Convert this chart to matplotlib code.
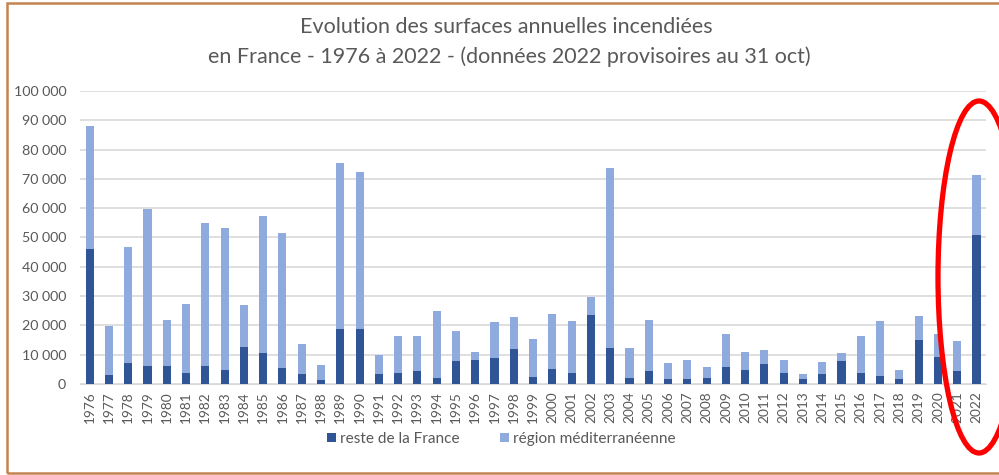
import matplotlib
matplotlib.use("Agg")
import matplotlib.pyplot as plt
from matplotlib.patches import Rectangle, Ellipse
from matplotlib.ticker import FuncFormatter
import numpy as np

plt.rcParams['font.family'] = ['Lato', 'DejaVu Sans']

# years and values (ha)
years = list(range(1976, 2023))
total = [88000, 19700, 46600, 59600, 22000, 27400, 54800, 53400, 26900, 57300,
         51600, 13800, 6400, 75300, 72200, 9800, 16300, 16500, 24800, 18000,
         11000, 21200, 23000, 15300, 23900, 21400, 29700, 73600, 12200, 22000,
         7200, 8300, 5800, 16900, 11000, 11600, 8100, 3300, 7400, 10700,
         16300, 21400, 4700, 23300, 16900, 14800, 71400]
reste = [46000, 3200, 7300, 6300, 6300, 3900, 6300, 4900, 12500, 10600,
         5500, 3500, 1400, 18600, 18600, 3400, 3800, 4600, 2200, 7700,
         8100, 9000, 12000, 2500, 5100, 3800, 23700, 12300, 1900, 4600,
         1800, 1800, 2200, 5700, 4800, 6900, 3800, 1600, 3400, 7900,
         3900, 2600, 1800, 14900, 9200, 4300, 50700]
med = [t - r for t, r in zip(total, reste)]

dark = '#2F5597'
light = '#8FAADC'
grey = '#595959'

fig = plt.figure(figsize=(9.99, 4.75), dpi=100)
ax = fig.add_axes([0.0801, 0.1916, 0.907, 0.6168])

x = np.arange(len(years))
ax.bar(x, reste, width=0.42, color=dark, label='reste de la France', zorder=3)
ax.bar(x, med, width=0.42, bottom=reste, color=light, label='région méditerranéenne', zorder=3)

ax.set_xlim(-0.5, len(years) - 0.5)
ax.set_ylim(0, 100000)
ax.set_yticks(range(0, 100001, 10000))
ax.yaxis.set_major_formatter(FuncFormatter(lambda v, p: f"{int(v):,}".replace(',', ' ')))
ax.set_xticks(x)
ax.set_xticklabels([str(y) for y in years], rotation=90)
ax.tick_params(axis='both', length=0, colors=grey)
ax.tick_params(axis='y', pad=10, labelsize=10.3)
ax.tick_params(axis='x', pad=5, labelsize=9.8)
ax.grid(axis='y', color='#D9D9D9', linewidth=1.2, zorder=0)
for s in ['top', 'right', 'left']:
    ax.spines[s].set_visible(False)
ax.spines['bottom'].set_color('#D9D9D9')

fig.text(0.507, 1 - 27 / 475, "Evolution des surfaces annuelles incendiées",
         ha='center', va='center', fontsize=15.5, color=grey)
fig.text(0.51, 1 - 57 / 475, "en France - 1976 à 2022 - (données 2022 provisoires au 31 oct)",
         ha='center', va='center', fontsize=15.5, color=grey)

fig.legend(loc='center', bbox_to_anchor=(0.502, 1 - 439 / 475), ncol=2, frameon=False,
           fontsize=11.1, labelcolor=grey, handlelength=0.6, handleheight=0.6,
           handletextpad=0.25, columnspacing=2.6)

# orange frame
fig.patches.append(Rectangle((7 / 999, 1 - 473 / 475), 1.0, 470 / 475, transform=fig.transFigure,
                             fill=False, edgecolor='#C4834F', linewidth=1.8))
# red ellipse annotation
fig.patches.append(Ellipse((979 / 999, 1 - 277 / 475), 82 / 999, 352 / 475, transform=fig.transFigure,
                           fill=False, edgecolor='#FF0000', linewidth=3.8, zorder=10))

fig.savefig('out.png', dpi=100)
